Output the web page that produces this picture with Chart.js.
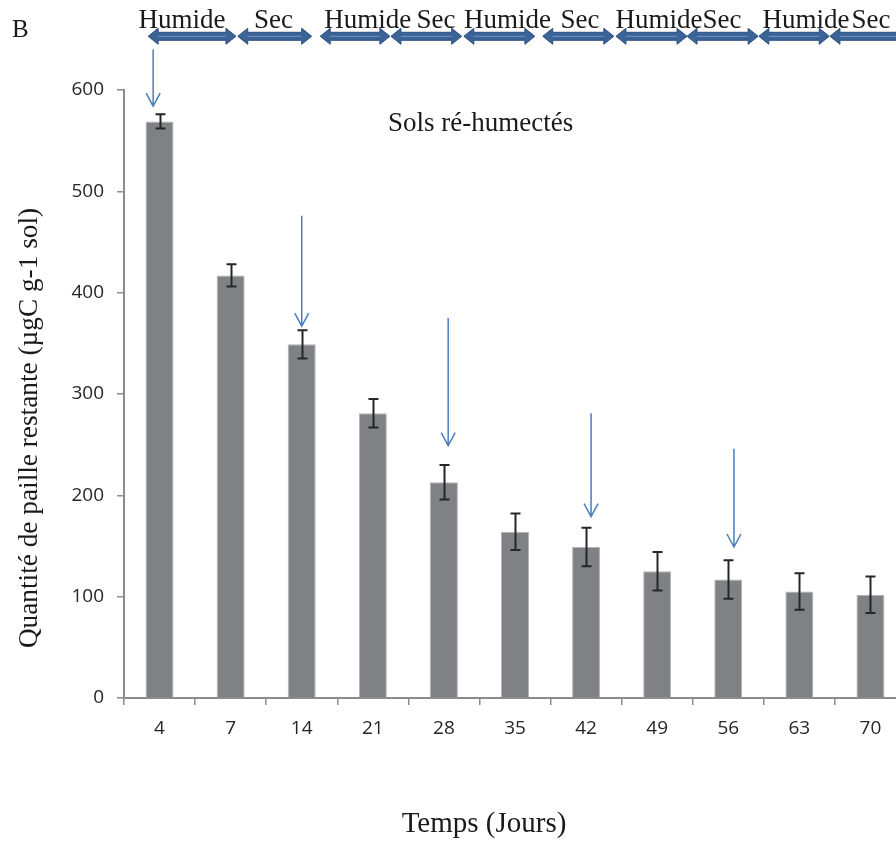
<!DOCTYPE html>
<html>
<head>
<meta charset="utf-8">
<script src="https://cdn.jsdelivr.net/npm/chart.js@4.4.1/dist/chart.umd.min.js"></script>
<style>
  html, body { margin: 0; padding: 0; background: #fff; overflow: hidden; }
  #wrap { position: relative; width: 920px; height: 841px; }
</style>
</head>
<body>
<div id="wrap"><canvas id="c"></canvas></div>
<script>
// ---- data ----
const days = ['4', '7', '14', '21', '28', '35', '42', '49', '56', '63', '70'];
const strawRemaining = [569, 417, 349, 281, 213, 164, 149, 125, 117, 105, 102];
const strawError = [7, 11, 14, 14, 17, 18, 19, 19, 19, 18, 18];
const yTicks = [0, 100, 200, 300, 400, 500, 600];

// top phase annotations (positions in category-index units)
const phaseLabels = ['Humide', 'Sec', 'Humide', 'Sec', 'Humide', 'Sec', 'Humide', 'Sec', 'Humide', 'Sec'];
const phaseLabelPos = [0.316, 1.603, 2.93, 3.888, 4.894, 5.913, 7.025, 7.91, 9.092, 10.006];
const phaseStart = [-0.16, 1.10, 2.26, 3.255, 4.28, 5.39, 6.42, 7.42, 8.43, 9.43];
const phaseEnd   = [1.075, 2.14, 3.24, 4.25, 5.28, 6.39, 7.42, 8.42, 9.42, 10.6];

// re-wetting arrows (x in category-index units, y in data units)
const rewetX    = [-0.09, 2.0, 4.06, 6.07, 8.08];
const rewetTop  = [640, 476, 375, 281, 246];
const rewetTip  = [584, 367, 249, 179, 149];

const serif = '"Liberation Serif", "Times New Roman", serif';

const annotations = {
  id: 'annotations',
  afterDatasetsDraw(chart) {
    const ctx = chart.ctx;
    const ys = chart.scales.y;
    const meta = chart.getDatasetMeta(0);
    // error bars
    ctx.save();
    ctx.strokeStyle = '#262626';
    ctx.lineWidth = 2;
    meta.data.forEach((bar, i) => {
      const x = Math.round(bar.x) + 0.5;
      const yHi = ys.getPixelForValue(strawRemaining[i] + strawError[i]);
      const yLo = ys.getPixelForValue(strawRemaining[i] - strawError[i]);
      ctx.beginPath();
      ctx.moveTo(x, yHi); ctx.lineTo(x, yLo);
      ctx.moveTo(x - 5, yHi); ctx.lineTo(x + 5, yHi);
      ctx.moveTo(x - 5, yLo); ctx.lineTo(x + 5, yLo);
      ctx.stroke();
    });
    ctx.restore();
  },
  afterDraw(chart) {
    const ctx = chart.ctx;
    const xs = chart.scales.x, ys = chart.scales.y;
    ctx.save();
    // re-wetting arrows
    ctx.strokeStyle = '#4a7ebf';
    ctx.lineWidth = 1.5;
    rewetX.forEach((v, i) => {
      const x = xs.getPixelForValue(v);
      const y1 = ys.getPixelForValue(rewetTop[i]);
      const y2 = ys.getPixelForValue(rewetTip[i]);
      ctx.beginPath();
      ctx.moveTo(x, y1); ctx.lineTo(x, y2);
      ctx.moveTo(x - 7, y2 - 13); ctx.lineTo(x, y2); ctx.lineTo(x + 7, y2 - 13);
      ctx.stroke();
    });
    // phase double arrows
    const cy = ys.getPixelForValue(653);
    const sh = 4, hh = 8, hl = 10;
    phaseStart.forEach((s, i) => {
      const x1 = xs.getPixelForValue(s), x2 = xs.getPixelForValue(phaseEnd[i]);
      ctx.beginPath();
      ctx.moveTo(x1, cy);
      ctx.lineTo(x1 + hl, cy - hh); ctx.lineTo(x1 + hl, cy - sh);
      ctx.lineTo(x2 - hl, cy - sh); ctx.lineTo(x2 - hl, cy - hh);
      ctx.lineTo(x2, cy);
      ctx.lineTo(x2 - hl, cy + hh); ctx.lineTo(x2 - hl, cy + sh);
      ctx.lineTo(x1 + hl, cy + sh); ctx.lineTo(x1 + hl, cy + hh);
      ctx.closePath();
      ctx.fillStyle = '#3b6398';
      ctx.fill();
      ctx.strokeStyle = '#2c4f7f';
      ctx.lineWidth = 1;
      ctx.stroke();
      ctx.beginPath();
      ctx.moveTo(x1 + hl, cy); ctx.lineTo(x2 - hl, cy);
      ctx.strokeStyle = '#7196c9';
      ctx.stroke();
    });
    // phase labels
    ctx.fillStyle = '#1a1a1a';
    ctx.font = '27px ' + serif;
    ctx.textAlign = 'center';
    ctx.textBaseline = 'alphabetic';
    const ly = ys.getPixelForValue(661);
    phaseLabels.forEach((t, i) => {
      ctx.fillText(t, xs.getPixelForValue(phaseLabelPos[i]), ly);
    });
    // panel letter
    ctx.textAlign = 'left';
    ctx.font = '25px ' + serif;
    ctx.fillText('B', 12, 37);
    // inner label
    ctx.font = '27px ' + serif;
    ctx.fillText('Sols ré-humectés', 388, 131);
    // axis titles
    ctx.textAlign = 'center';
    ctx.font = '29px ' + serif;
    ctx.fillText('Temps (Jours)', 484, 832);
    ctx.font = '27.3px ' + serif;
    ctx.translate(37, 428);
    ctx.rotate(-Math.PI / 2);
    ctx.fillText('Quantité de paille restante (µgC g-1 sol)', 0, 0);
    ctx.restore();
  }
};

new Chart(document.getElementById('c'), {
  type: 'bar',
  data: {
    labels: days,
    datasets: [{
      data: strawRemaining,
      backgroundColor: '#808185',
      borderColor: '#b4b4b6',
      borderWidth: { top: 1, left: 1, right: 1, bottom: 0 },
      barPercentage: 0.394,
      categoryPercentage: 1.0
    }]
  },
  options: {
    responsive: true,
    maintainAspectRatio: false,
    animation: false,
    devicePixelRatio: 1,
    layout: { padding: { left: 0, top: 90, right: 14, bottom: 0 } },
    plugins: { legend: { display: false }, tooltip: { enabled: false }, title: { display: false } },
    scales: {
      x: {
        offset: true,
        grid: { display: true, drawOnChartArea: false, offset: true, tickLength: 7, color: '#8c8c8c', lineWidth: 1.5 },
        border: { display: true, color: '#8c8c8c', width: 2 },
        ticks: { color: '#262626', font: { family: '"Open Sans", sans-serif', size: 19 }, padding: 12, maxRotation: 0 },
        afterFit(scale) { scale.height = 143; }
      },
      y: {
        min: 0, max: 600,
        afterBuildTicks(scale) { scale.ticks = yTicks.map(v => ({ value: v })); },
        grid: { display: true, drawOnChartArea: false, tickLength: 7, color: '#8c8c8c', lineWidth: 1.5 },
        border: { display: true, color: '#8c8c8c', width: 2 },
        ticks: { color: '#262626', font: { family: '"Open Sans", sans-serif', size: 19 }, padding: 13 },
        afterFit(scale) { scale.width = 124; }
      }
    }
  },
  plugins: [annotations]
});
</script>
</body>
</html>
